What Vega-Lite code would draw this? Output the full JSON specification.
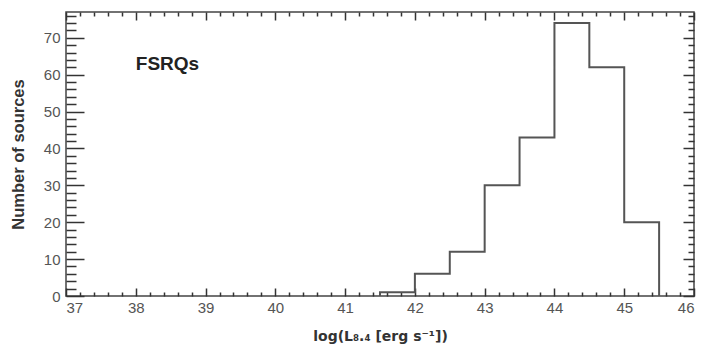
{
  "$schema": "https://vega.github.io/schema/vega-lite/v6.json",
  "autosize": "none",
  "padding": {"left": 66, "top": 12, "right": 7, "bottom": 58},
  "width": 628,
  "height": 284,
  "config": {
    "view": {"stroke": "#444", "strokeWidth": 1.5},
    "axis": {"grid": false, "domain": false, "ticks": true, "labelFont": "Liberation Sans", "titleFont": "DejaVu Sans", "labelColor": "#555", "titleColor": "#333", "labelFontSize": 15, "titleFontSize": 14, "titleFontWeight": "bold", "tickColor": "#333", "tickWidth": 1.5, "tickOpacity": 1}
  },
  "datasets": {
    "hist": [
      {"x": 41.5, "n": 0},
      {"x": 41.5, "n": 1},
      {"x": 42.0, "n": 6},
      {"x": 42.5, "n": 12},
      {"x": 43.0, "n": 30},
      {"x": 43.5, "n": 43},
      {"x": 44.0, "n": 74},
      {"x": 44.5, "n": 62},
      {"x": 45.0, "n": 20},
      {"x": 45.5, "n": 0}
    ],
    "label": [{"x": 38.0, "y": 63, "t": "FSRQs"}]
  },
  "layer": [
    {
      "data": {"name": "hist"},
      "mark": {"type": "line", "interpolate": "step-after", "color": "#555", "strokeWidth": 2},
      "encoding": {
        "x": {"field": "x", "type": "quantitative", "scale": {"domain": [37, 46], "nice": false, "zero": false},
          "axis": {"orient": "bottom", "title": "log(L₈.₄ [erg s⁻¹])", "values": [37,38,39,40,41,42,43,44,45,46], "format": "d", "tickSize": 8, "offset": -8, "labelPadding": 4, "titlePadding": 14}},
        "y": {"field": "n", "type": "quantitative", "scale": {"domain": [0, 77], "nice": false},
          "axis": {"orient": "left", "title": "Number of sources", "titleFont": "Liberation Sans", "titleFontSize": 16.5, "values": [0,10,20,30,40,50,60,70], "tickSize": 18, "offset": -18, "labelPadding": 6, "titlePadding": 17}}
      }
    },
    {
      "data": {"name": "hist"},
      "mark": {"type": "line", "opacity": 0},
      "encoding": {
        "x": {"field": "x", "type": "quantitative", "scale": {"domain": [37, 46], "nice": false, "zero": false},
          "axis": {"orient": "bottom", "title": null, "labels": false, "values": [37.2,37.4,37.6,37.8,38.2,38.4,38.6,38.8,39.2,39.4,39.6,39.8,40.2,40.4,40.6,40.8,41.2,41.4,41.6,41.8,42.2,42.4,42.6,42.8,43.2,43.4,43.6,43.8,44.2,44.4,44.6,44.8,45.2,45.4,45.6,45.8], "tickSize": 4, "offset": -4}},
        "y": {"field": "n", "type": "quantitative", "scale": {"domain": [0, 77], "nice": false},
          "axis": {"orient": "left", "title": null, "labels": false, "values": [2,4,6,8,12,14,16,18,22,24,26,28,32,34,36,38,42,44,46,48,52,54,56,58,62,64,66,68,72,74,76], "tickSize": 10, "offset": -10}}
      }
    },
    {
      "data": {"name": "hist"},
      "mark": {"type": "line", "opacity": 0},
      "encoding": {
        "x": {"field": "x", "type": "quantitative", "scale": {"domain": [37, 46], "nice": false, "zero": false},
          "axis": {"orient": "top", "title": null, "labels": false, "values": [37,38,39,40,41,42,43,44,45,46], "tickSize": 8, "offset": -8}},
        "y": {"field": "n", "type": "quantitative", "scale": {"domain": [0, 77], "nice": false},
          "axis": {"orient": "right", "title": null, "labels": false, "values": [0,10,20,30,40,50,60,70], "tickSize": 11, "offset": -11}}
      }
    },
    {
      "data": {"name": "hist"},
      "mark": {"type": "line", "opacity": 0},
      "encoding": {
        "x": {"field": "x", "type": "quantitative", "scale": {"domain": [37, 46], "nice": false, "zero": false},
          "axis": {"orient": "top", "title": null, "labels": false, "values": [37.2,37.4,37.6,37.8,38.2,38.4,38.6,38.8,39.2,39.4,39.6,39.8,40.2,40.4,40.6,40.8,41.2,41.4,41.6,41.8,42.2,42.4,42.6,42.8,43.2,43.4,43.6,43.8,44.2,44.4,44.6,44.8,45.2,45.4,45.6,45.8], "tickSize": 4, "offset": -4}},
        "y": {"field": "n", "type": "quantitative", "scale": {"domain": [0, 77], "nice": false},
          "axis": {"orient": "right", "title": null, "labels": false, "values": [2,4,6,8,12,14,16,18,22,24,26,28,32,34,36,38,42,44,46,48,52,54,56,58,62,64,66,68,72,74,76], "tickSize": 6, "offset": -6}}
      }
    },
    {
      "data": {"name": "label"},
      "mark": {"type": "text", "align": "left", "baseline": "middle", "font": "Liberation Sans", "fontWeight": "bold", "fontSize": 19, "color": "#222"},
      "encoding": {
        "x": {"field": "x", "type": "quantitative", "axis": null},
        "y": {"field": "y", "type": "quantitative", "axis": null},
        "text": {"field": "t"}
      }
    }
  ],
  "resolve": {"axis": {"x": "independent", "y": "independent"}}
}
